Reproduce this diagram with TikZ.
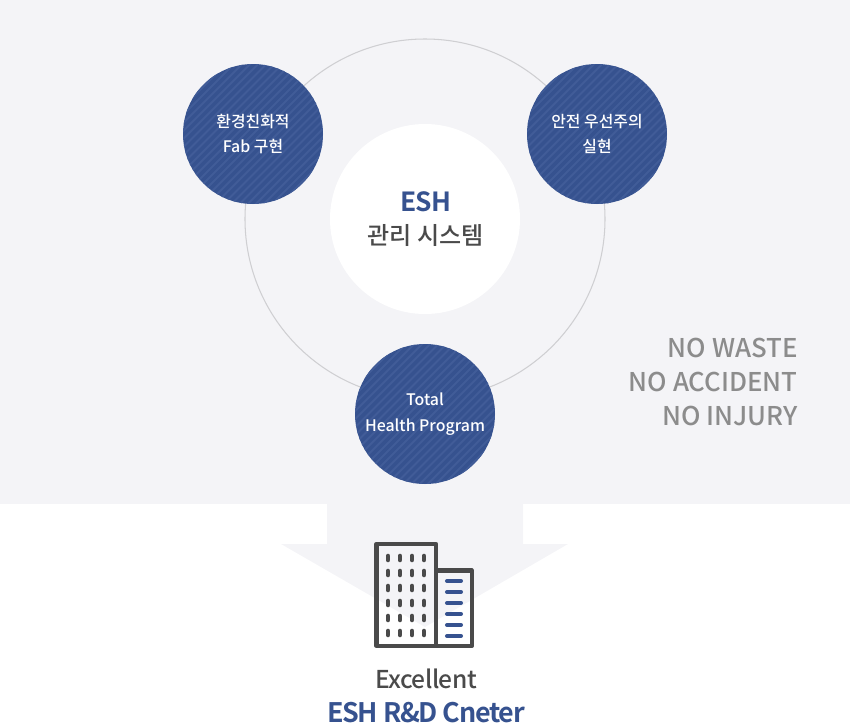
\documentclass[tikz,border=0pt]{standalone}
\usepackage{fontspec}
\setmainfont{Noto Sans CJK KR}
\newfontfamily\krmed{Noto Sans CJK KR Medium}
\newfontfamily\krtight[LetterSpace=-2.2]{Noto Sans CJK KR Medium}
\newfontfamily\krbold[LetterSpace=-2.6]{Noto Sans CJK KR Bold}
\newfontfamily\krboldtight[LetterSpace=-4.6]{Noto Sans CJK KR Bold}
\usetikzlibrary{positioning}
\definecolor{pagebg}{HTML}{F4F4F7}
\definecolor{esh}{HTML}{36528F}
\definecolor{eshlight}{HTML}{415C98}
\definecolor{ringc}{HTML}{CFCFD2}
\definecolor{darkc}{HTML}{4A4A4A}
\definecolor{grayc}{HTML}{8C8C8C}
\tikzset{
    topic/.style={circle, minimum size=140*0.02cm, inner sep=0pt, fill=esh, text=white, align=center,
        font=\krmed\fontsize{9.05}{14.5}\selectfont,
        path picture={\foreach \s in {-30,...,30} {
            \draw[eshlight, line width=1.1pt]
                ([xshift=\s*4.6pt-60pt, yshift=-60pt]path picture bounding box.center)
                -- ++(120pt,120pt);}}},
    slogan/.style={anchor=east, inner sep=0pt, text=grayc, font=\krmed\fontsize{14.7}{16}\selectfont},
    wall/.style={draw=darkc, line width=2.3pt, line join=round},
    pane/.style={darkc, line width=2.6pt, line cap=round},
    blind/.style={esh, line width=2.3pt, line cap=round}
}

\begin{document}
\begin{tikzpicture}[x=0.02cm, y=-0.02cm]
    \useasboundingbox (0,0) rectangle (850,724);
    % background and arrow
    \fill[pagebg] (0,0) rectangle (850,504);
    \fill[pagebg] (327,504) -- (523,504) -- (523,544) -- (568,544) -- (425,627) -- (281,544) -- (327,544) -- cycle;

    \coordinate (mid) at (425,219);
    \node[circle, draw=ringc, line width=0.6pt, minimum size=360*0.02cm, inner sep=0pt] (ring) at (mid) {};
    \node[circle, fill=white, minimum size=190*0.02cm, inner sep=0pt, align=center] (core) at (mid) {};
    \node[text=esh, font=\krbold\fontsize{15}{16}\selectfont] (coretop) at (426,202) {ESH};
    \node[text=darkc, font=\krmed\fontsize{13.7}{16}\selectfont] (corebot) at (425.5,235) {관리 시스템};

    \node[topic] (env) at (253,134) {환경친화적\\Fab 구현};
    \node[topic] (safe) at (597,134) {안전 우선주의\\실현};
    \node[topic] (health) at (425,414) {Total\\Health Program};

    \node[slogan] (s1) at (798,348) {NO WASTE};
    \node[slogan] (s2) at (798,382) {NO ACCIDENT};
    \node[slogan] (s3) at (798,416) {NO INJURY};

    % building
    \draw[wall] (436,570.5) -- (471.8,570.5) -- (471.8,646) -- (436,646);
    \draw[wall] (376.5,543.7) rectangle (436,646);
    \foreach \x in {388,400,412,424} {
        \foreach \y in {558,573,588,603,618,633} {
            \draw[pane] (\x,\y-2) -- (\x,\y+2);
        }
    }
    \foreach \y in {581,592,603,614,625,636} {
        \draw[blind] (447,\y) -- (461,\y);
    }

    \node[text=darkc, font=\krtight\fontsize{14}{16}\selectfont] (t1) at (426,679) {Excellent};
    \node[inner sep=0pt, text=esh, font=\krboldtight\fontsize{15.3}{16}\selectfont] (t2) at (426,713) {ESH R\&D Cneter};
\end{tikzpicture}
\end{document}
